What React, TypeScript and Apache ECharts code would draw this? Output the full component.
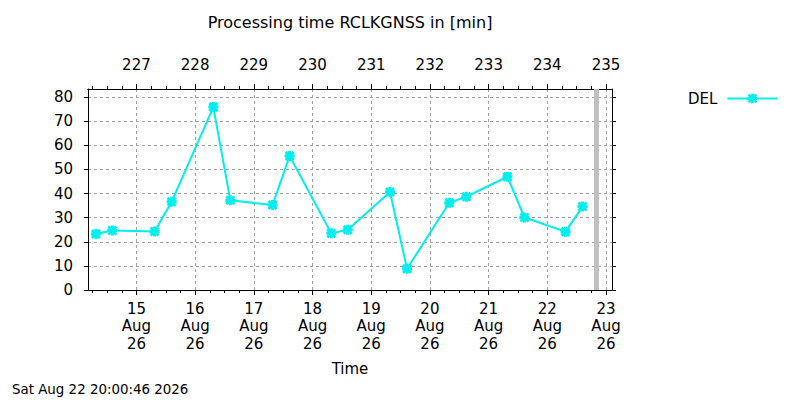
import { useEffect, useRef } from 'react';
import * as echarts from 'echarts';

// time axis is in days of August 2026 (15.5 = 15 Aug 12:00)
const dayTicks = [15, 16, 17, 18, 19, 20, 21, 22, 23];
const doyOffset = 212; // 1 Aug 2026 is day 213
const yTicks = [0, 10, 20, 30, 40, 50, 60, 70, 80];

const runTimes = [
  14.31, 14.59, 15.31, 15.6, 16.31, 16.6, 17.32, 17.61, 18.32,
  18.6, 19.32, 19.61, 20.33, 20.62, 21.32, 21.61, 22.31, 22.6,
];
const delMinutes = [
  23.2, 24.7, 24.3, 36.6, 75.9, 37.2, 35.3, 55.6, 23.5,
  25.0, 40.7, 8.8, 36.2, 38.7, 47.0, 30.1, 24.2, 34.6,
];

const nowDay = 22.8339; // Sat Aug 22 20:00:46
const xMin = 14.175;
const xMax = 23.102;
const yMax = 83.4;

const FONT = 'DejaVu Sans';
const CYAN = '#00eeee';
const GRID = '#a0a0a0';

// gnuplot-like asterisk point, drawn bold
const STAR =
  'path://M0,3.5L10,3.5L10,6.5L0,6.5Z M3.5,0L6.5,0L6.5,10L3.5,10Z M2,0L10,8L8,10L0,2Z M8,0L10,2L2,10L0,8Z';

const quarterTicks: number[] = [];
for (let q = Math.ceil(xMin * 4); q <= Math.floor(xMax * 4); q++) {
  if (q % 4 !== 0) quarterTicks.push(q / 4);
}

export default function App() {
  const chartRef = useRef<HTMLDivElement>(null);

  useEffect(() => {
    if (!chartRef.current) return;
    const chart = echarts.init(chartRef.current, null, { renderer: 'svg' });

    const axisLine = { show: true, lineStyle: { color: '#000', width: 1 } };
    const baseX = { type: 'value' as const, min: xMin, max: xMax, gridIndex: 0 };

    chart.setOption({
      animation: false,
      backgroundColor: '#fff',
      textStyle: { fontFamily: FONT },
      title: [
        {
          text: 'Processing time RCLKGNSS in [min]',
          left: 350,
          top: 14,
          padding: 0,
          textAlign: 'center',
          textStyle: { fontFamily: FONT, fontSize: 16, fontWeight: 'normal', color: '#000' },
        },
        {
          text: 'Sat Aug 22 20:00:46 2026',
          left: 12,
          top: 383,
          padding: 0,
          textStyle: { fontFamily: FONT, fontSize: 13.4, fontWeight: 'normal', color: '#000' },
        },
      ],
      legend: {
        left: 688,
        top: 91,
        padding: 0,
        align: 'right',
        itemWidth: 50,
        itemHeight: 12,
        textStyle: { fontFamily: FONT, fontSize: 15, color: '#000', padding: [0, 5, 0, 0] },
        data: ['DEL'],
      },
      grid: { left: 88, right: 188, top: 89, bottom: 110, containLabel: false },
      xAxis: [
        {
          ...baseX,
          position: 'bottom',
          minInterval: 1,
          maxInterval: 1,
          axisLine,
          axisTick: { show: true, length: 5, customValues: dayTicks, lineStyle: { color: '#000' } },
          axisLabel: {
            customValues: dayTicks,
            margin: 10,
            fontFamily: FONT,
            fontSize: 15,
            lineHeight: 17.5,
            color: '#000',
            formatter: (v: number) => `${v}\nAug\n26`,
          },
          splitLine: { show: true, lineStyle: { color: GRID, type: [3, 3], width: 1 } },
          name: 'Time',
          nameLocation: 'middle',
          nameGap: 71,
          nameTextStyle: { fontFamily: FONT, fontSize: 15, color: '#000' },
        },
        {
          ...baseX,
          position: 'bottom',
          axisLine,
          axisTick: { show: true, length: 3, customValues: quarterTicks, lineStyle: { color: '#000' } },
          axisLabel: { show: false },
          splitLine: { show: false },
        },
        {
          ...baseX,
          position: 'top',
          axisLine,
          axisTick: { show: true, length: 5, customValues: dayTicks, lineStyle: { color: '#000' } },
          axisLabel: {
            customValues: dayTicks,
            margin: 16,
            fontFamily: FONT,
            fontSize: 15,
            lineHeight: 17,
            color: '#000',
            formatter: (v: number) => String(v + doyOffset),
          },
          splitLine: { show: false },
        },
        {
          ...baseX,
          position: 'top',
          axisLine,
          axisTick: { show: true, length: 3, customValues: quarterTicks, lineStyle: { color: '#000' } },
          axisLabel: { show: false },
          splitLine: { show: false },
        },
      ],
      yAxis: [
        {
          type: 'value',
          min: 0,
          max: yMax,
          interval: 10,
          position: 'left',
          axisLine,
          axisTick: { show: true, length: 4, customValues: yTicks, lineStyle: { color: '#000' } },
          axisLabel: {
            customValues: yTicks,
            margin: 15,
            fontFamily: FONT,
            fontSize: 15,
            color: '#000',
          },
          splitLine: { show: true, lineStyle: { color: GRID, type: [3, 3], width: 1 } },
        },
        {
          type: 'value',
          min: 0,
          max: yMax,
          interval: 10,
          position: 'right',
          axisLine,
          axisTick: { show: true, length: 4, customValues: yTicks, lineStyle: { color: '#000' } },
          axisLabel: { show: false },
          splitLine: { show: false },
        },
      ],
      series: [
        {
          name: 'DEL',
          type: 'line',
          xAxisIndex: 0,
          yAxisIndex: 0,
          data: runTimes.map((t, i) => [t, delMinutes[i]]),
          symbol: STAR,
          symbolSize: 10,
          showAllSymbol: true,
          lineStyle: { color: CYAN, width: 2 },
          itemStyle: { color: CYAN },
          markLine: {
            silent: true,
            symbol: ['none', 'none'],
            label: { show: false },
            lineStyle: { color: '#c0c0c0', width: 5, type: 'solid' },
            data: [{ xAxis: nowDay }],
          },
        },
      ],
    });

    return () => chart.dispose();
  }, []);

  return (
    <div
      ref={chartRef}
      style={{ position: 'absolute', left: 0, top: 0, width: 800, height: 400, background: '#fff' }}
    />
  );
}
